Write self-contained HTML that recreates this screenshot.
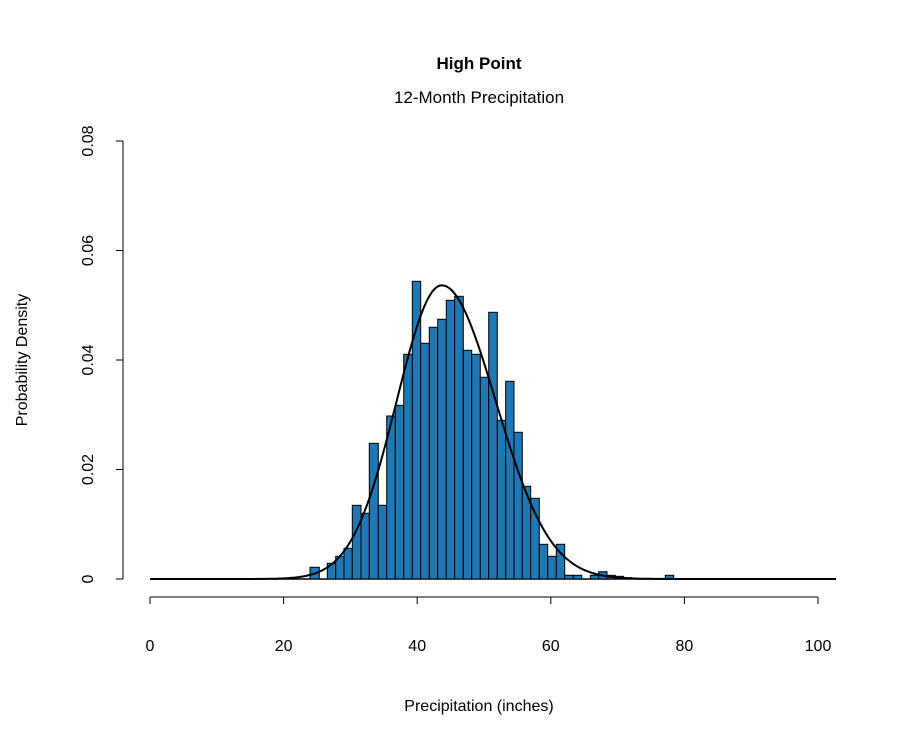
<!DOCTYPE html>
<html><head><meta charset="utf-8"><style>body{margin:0;background:#fff}</style></head>
<body>
<svg width="900" height="750" viewBox="0 0 900 750" xmlns="http://www.w3.org/2000/svg" font-family="Liberation Sans, Arial, sans-serif">
<rect width="900" height="750" fill="#fff"/>
<text x="479" y="69" font-size="17" font-weight="bold" text-anchor="middle">High Point</text>
<text x="479" y="103" font-size="17" text-anchor="middle">12-Month Precipitation</text>
<text x="479" y="711" font-size="16" text-anchor="middle">Precipitation (inches)</text>
<text transform="translate(27,360) rotate(-90)" font-size="16" text-anchor="middle">Probability Density</text>
<g stroke="#000" stroke-width="1" fill="none">
<line x1="123" y1="141" x2="123" y2="579"/>
<line x1="116" y1="141" x2="123" y2="141"/><line x1="116" y1="250.5" x2="123" y2="250.5"/><line x1="116" y1="360" x2="123" y2="360"/><line x1="116" y1="469.5" x2="123" y2="469.5"/><line x1="116" y1="579" x2="123" y2="579"/>
<line x1="150" y1="597" x2="818" y2="597"/>
<line x1="150" y1="597" x2="150" y2="604"/><line x1="283.6" y1="597" x2="283.6" y2="604"/><line x1="417.2" y1="597" x2="417.2" y2="604"/><line x1="550.8" y1="597" x2="550.8" y2="604"/><line x1="684.4" y1="597" x2="684.4" y2="604"/><line x1="818" y1="597" x2="818" y2="604"/>
</g>
<g font-size="16" text-anchor="middle">
<text x="150" y="651">0</text><text x="283.6" y="651">20</text><text x="417.2" y="651">40</text><text x="550.8" y="651">60</text><text x="684.4" y="651">80</text><text x="818" y="651">100</text>
<text transform="translate(93,579) rotate(-90)">0</text>
<text transform="translate(93,469.5) rotate(-90)">0.02</text>
<text transform="translate(93,360) rotate(-90)">0.04</text>
<text transform="translate(93,250.5) rotate(-90)">0.06</text>
<text transform="translate(93,141) rotate(-90)">0.08</text>
</g>
<line x1="150" y1="579" x2="836" y2="579" stroke="#000" stroke-width="1.5"/>
<g fill="#1f77b4" stroke="#000" stroke-width="1">
<rect x="310" y="567.3" width="9.3" height="11.7"/>
<rect x="327.3" y="563.3" width="8.4" height="15.7"/>
<rect x="335.7" y="556.3" width="8.3" height="22.7"/>
<rect x="344" y="548.3" width="8.3" height="30.7"/>
<rect x="352.3" y="505.3" width="8.7" height="73.7"/>
<rect x="361" y="513.3" width="8.3" height="65.7"/>
<rect x="369.3" y="443.3" width="9" height="135.7"/>
<rect x="378.3" y="505.3" width="8.4" height="73.7"/>
<rect x="386.7" y="416" width="8.6" height="163"/>
<rect x="395.3" y="405.3" width="8.4" height="173.7"/>
<rect x="403.7" y="354.3" width="8.6" height="224.7"/>
<rect x="412.3" y="281.3" width="8.4" height="297.7"/>
<rect x="420.7" y="343.3" width="8.6" height="235.7"/>
<rect x="429.3" y="327.3" width="8.4" height="251.7"/>
<rect x="437.7" y="319.3" width="8.6" height="259.7"/>
<rect x="446.3" y="300.3" width="8.4" height="278.7"/>
<rect x="454.7" y="296.3" width="8.6" height="282.7"/>
<rect x="463.3" y="350.3" width="8.4" height="228.7"/>
<rect x="471.7" y="354.3" width="8.6" height="224.7"/>
<rect x="480.3" y="377.3" width="8.4" height="201.7"/>
<rect x="488.7" y="312.3" width="8.6" height="266.7"/>
<rect x="497.3" y="420.3" width="8.4" height="158.7"/>
<rect x="505.7" y="381.3" width="8.3" height="197.7"/>
<rect x="514" y="432.3" width="8.3" height="146.7"/>
<rect x="522.3" y="486.3" width="8.4" height="92.7"/>
<rect x="530.7" y="498.3" width="8.6" height="80.7"/>
<rect x="539.3" y="544.3" width="8.4" height="34.7"/>
<rect x="547.7" y="556.3" width="8.6" height="22.7"/>
<rect x="556.3" y="544.3" width="8.4" height="34.7"/>
<rect x="564.7" y="575.3" width="8.6" height="3.7"/>
<rect x="573.3" y="575.3" width="8.4" height="3.7"/>
<rect x="590.3" y="575.3" width="8.4" height="3.7"/>
<rect x="598.7" y="571.7" width="8.3" height="7.3"/>
<rect x="607" y="575.3" width="8.3" height="3.7"/>
<rect x="615.3" y="576.3" width="8.4" height="2.7"/>
<rect x="623.7" y="577.7" width="8.3" height="1.3"/>
<rect x="665.3" y="575.3" width="8.4" height="3.7"/>
</g>
<polyline id="curve" fill="none" stroke="#000" stroke-width="2"/>
<script>
var p=[];for(var x=150;x<=836;x+=2){var sd=x<441.7?45:54;var z=(x-441.7)/sd;p.push(x+','+(579-293.7*Math.exp(-z*z/2)).toFixed(1));}
document.getElementById('curve').setAttribute('points',p.join(' '));
</script>
</svg>
</body></html>
